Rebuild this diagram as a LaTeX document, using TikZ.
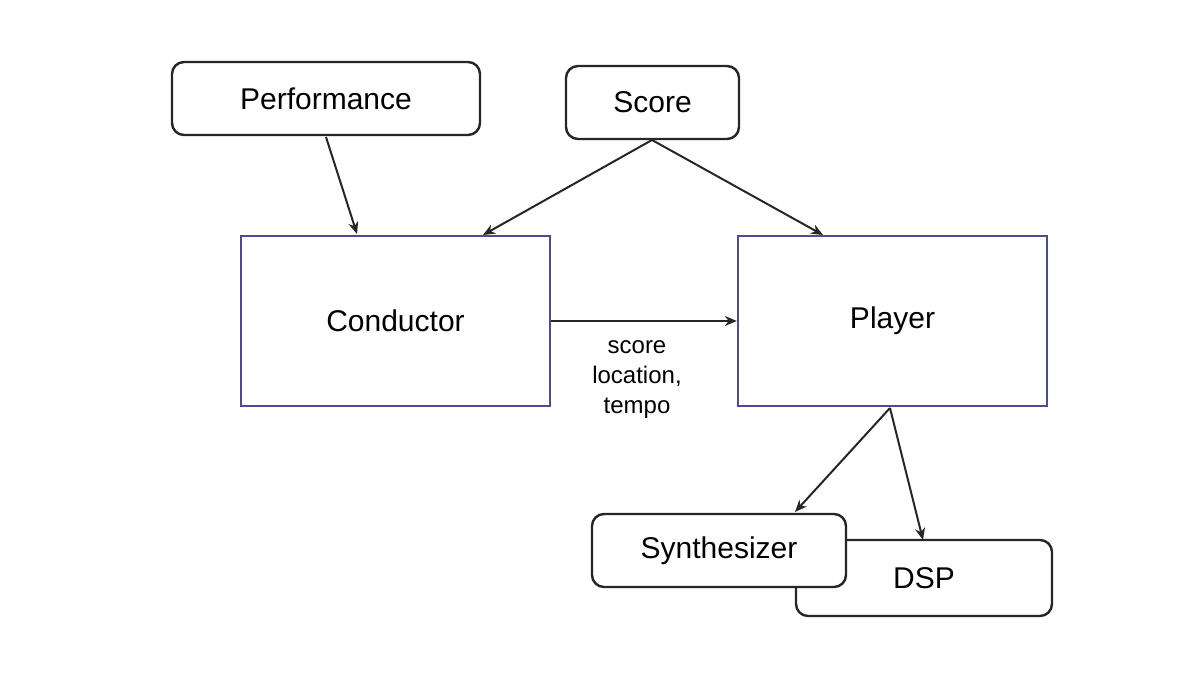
\documentclass[tikz,border=0pt]{standalone}
\usepackage{fontspec}
\setmainfont{Liberation Sans}
\usetikzlibrary{arrows.meta}
\begin{document}
\begin{tikzpicture}[x=0.5pt,y=-0.5pt,
  rb/.style={draw=black!85,line width=1.2pt,rounded corners=6pt,fill=white,inner sep=0pt,font=\fontsize{15}{18}\selectfont},
  sb/.style={draw=black!60!blue!70,line width=1.2pt,fill=white,inner sep=0pt,font=\fontsize{15}{18}\selectfont},
  ar/.style={-{Stealth[length=6pt,width=5pt]},line width=1pt,black!85}]
\useasboundingbox (0,0) rectangle (1200,683);
\node[rb,minimum width=154pt,minimum height=36.5pt] (perf) at (326,98.5) {Performance};
\node[rb,minimum width=86.5pt,minimum height=36.5pt] (score) at (652.5,102.5) {Score};
\node[sb,minimum width=154.5pt,minimum height=85pt] (cond) at (395.5,321) {Conductor};
\node[sb,minimum width=154.5pt,minimum height=85pt] (play) at (892.5,321) {Player};
\node[rb,minimum width=128pt,minimum height=38pt,text depth=0pt] (dsp) at (924,578) {\raisebox{0pt}[0pt][0pt]{\hspace*{0pt}}DSP};
\node[rb,minimum width=127pt,minimum height=36.5pt] (syn) at (719,550.5) {Synthesizer};
\coordinate (sb) at (652,140);
\coordinate (pb) at (890,408);
\draw[ar] (326,137) -- (357,234);
\draw[ar] (sb) -- (483,235);
\draw[ar] (sb) -- (823,235);
\draw[ar] (cond.east) -- (play.west);
\node[font=\fontsize{12}{15}\selectfont,align=center] (lab) at (637,380) {score\\location,\\tempo};
\draw[ar] (pb) -- (795,512);
\draw[ar] (pb) -- (923,540);
\end{tikzpicture}
\end{document}
